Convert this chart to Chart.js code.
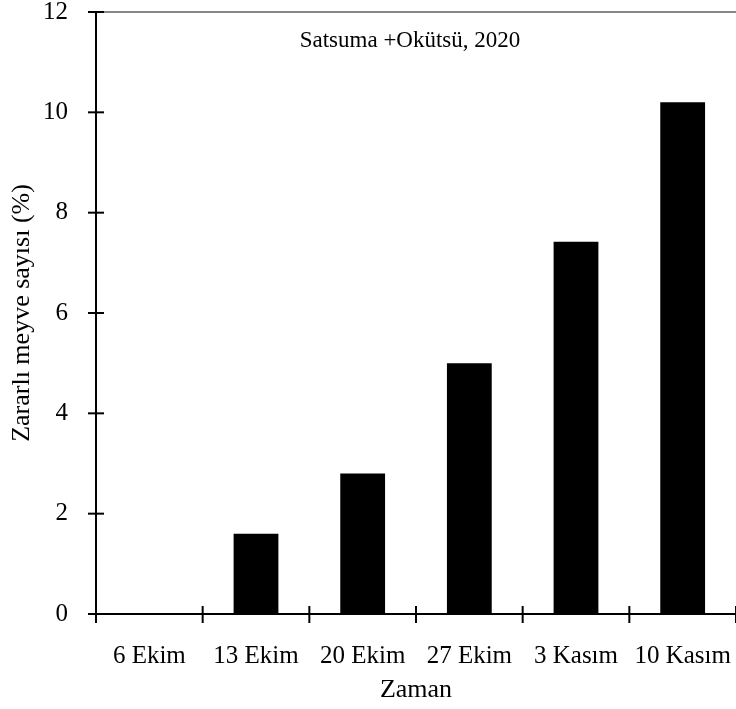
<!DOCTYPE html>
<html>
<head>
<meta charset="utf-8">
<script src="https://cdn.jsdelivr.net/npm/chart.js@4/dist/chart.umd.min.js"></script>
<style>
  html, body { margin: 0; padding: 0; background: #fff; }
  #wrap { width: 736px; height: 709px; }
</style>
</head>
<body>
<div id="wrap"><canvas id="chart" width="736" height="709"></canvas></div>
<script>
// Data
const categories = ['6 Ekim', '13 Ekim', '20 Ekim', '27 Ekim', '3 Kasım', '10 Kasım'];
const damagedFruit = [0, 1.6, 2.8, 5.0, 7.42, 10.2];
const yTicks = [0, 2, 4, 6, 8, 10, 12];

const FONT = "'Liberation Serif', 'Times New Roman', serif";

// Crossing tick marks, top frame line and inner title
const decorPlugin = {
    id: 'decor',
    afterDraw(chart) {
        const c = chart.ctx;
        const area = chart.chartArea;
        const xs = chart.scales.x;
        const ys = chart.scales.y;
        c.save();
        // top line
        c.strokeStyle = '#888888';
        c.lineWidth = 2;
        c.beginPath();
        c.moveTo(area.left, area.top);
        c.lineTo(area.right, area.top);
        c.stroke();

        c.strokeStyle = '#000';
        c.lineWidth = 2;
        // y ticks
        yTicks.forEach(v => {
            const y = ys.getPixelForValue(v);
            c.beginPath();
            c.moveTo(area.left - 8, y);
            c.lineTo(area.left + 8, y);
            c.stroke();
        });
        // x ticks at category boundaries
        for (let i = 0; i <= categories.length; i++) {
            const x = xs.getPixelForValue(i - 0.5);
            c.beginPath();
            c.moveTo(x, area.bottom - 8);
            c.lineTo(x, area.bottom + 9);
            c.stroke();
        }
        // title inside plot
        c.fillStyle = '#000';
        c.font = 'normal 400 23px ' + FONT;
        c.textAlign = 'center';
        c.textBaseline = 'alphabetic';
        c.fillText('Satsuma +Okütsü, 2020', 410, 47);
        c.restore();
    }
};

new Chart(document.getElementById('chart'), {
    type: 'bar',
    data: {
        labels: categories,
        datasets: [{
            data: damagedFruit,
            backgroundColor: '#000',
            borderWidth: 0,
            barPercentage: 0.42,
            categoryPercentage: 1
        }]
    },
    plugins: [decorPlugin],
    options: {
        responsive: false,
        animation: false,
        layout: { padding: { top: 12, right: 0, left: 0, bottom: 0 } },
        plugins: {
            legend: { display: false },
            tooltip: { enabled: false }
        },
        scales: {
            x: {
                offset: true,
                grid: { display: false },
                border: { display: true, color: '#000', width: 2 },
                ticks: {
                    color: '#000',
                    font: { family: FONT, size: 25 },
                    padding: 19,
                    maxRotation: 0,
                    autoSkip: false
                },
                title: {
                    display: true,
                    text: 'Zaman',
                    color: '#000',
                    font: { family: FONT, size: 26 },
                    padding: { top: 0, bottom: 3 }
                },
                afterFit(scale) {
                    scale.height = 95;
                    scale.paddingLeft = 0;
                    scale.paddingRight = 0;
                }
            },
            y: {
                min: 0,
                max: 12,
                afterBuildTicks(scale) { scale.ticks = yTicks.map(v => ({ value: v })); },
                grid: { display: false },
                border: { display: true, color: '#000', width: 2 },
                ticks: {
                    color: '#000',
                    font: { family: FONT, size: 25 },
                    padding: 20
                },
                title: {
                    display: true,
                    text: 'Zararlı meyve sayısı (%)',
                    color: '#000',
                    font: { family: FONT, size: 26 },
                    padding: { top: 7, bottom: 0 }
                },
                afterFit(scale) {
                    scale.width = 96;
                    scale.paddingTop = 0;
                    scale.paddingBottom = 0;
                }
            }
        }
    }
});
</script>
</body>
</html>
